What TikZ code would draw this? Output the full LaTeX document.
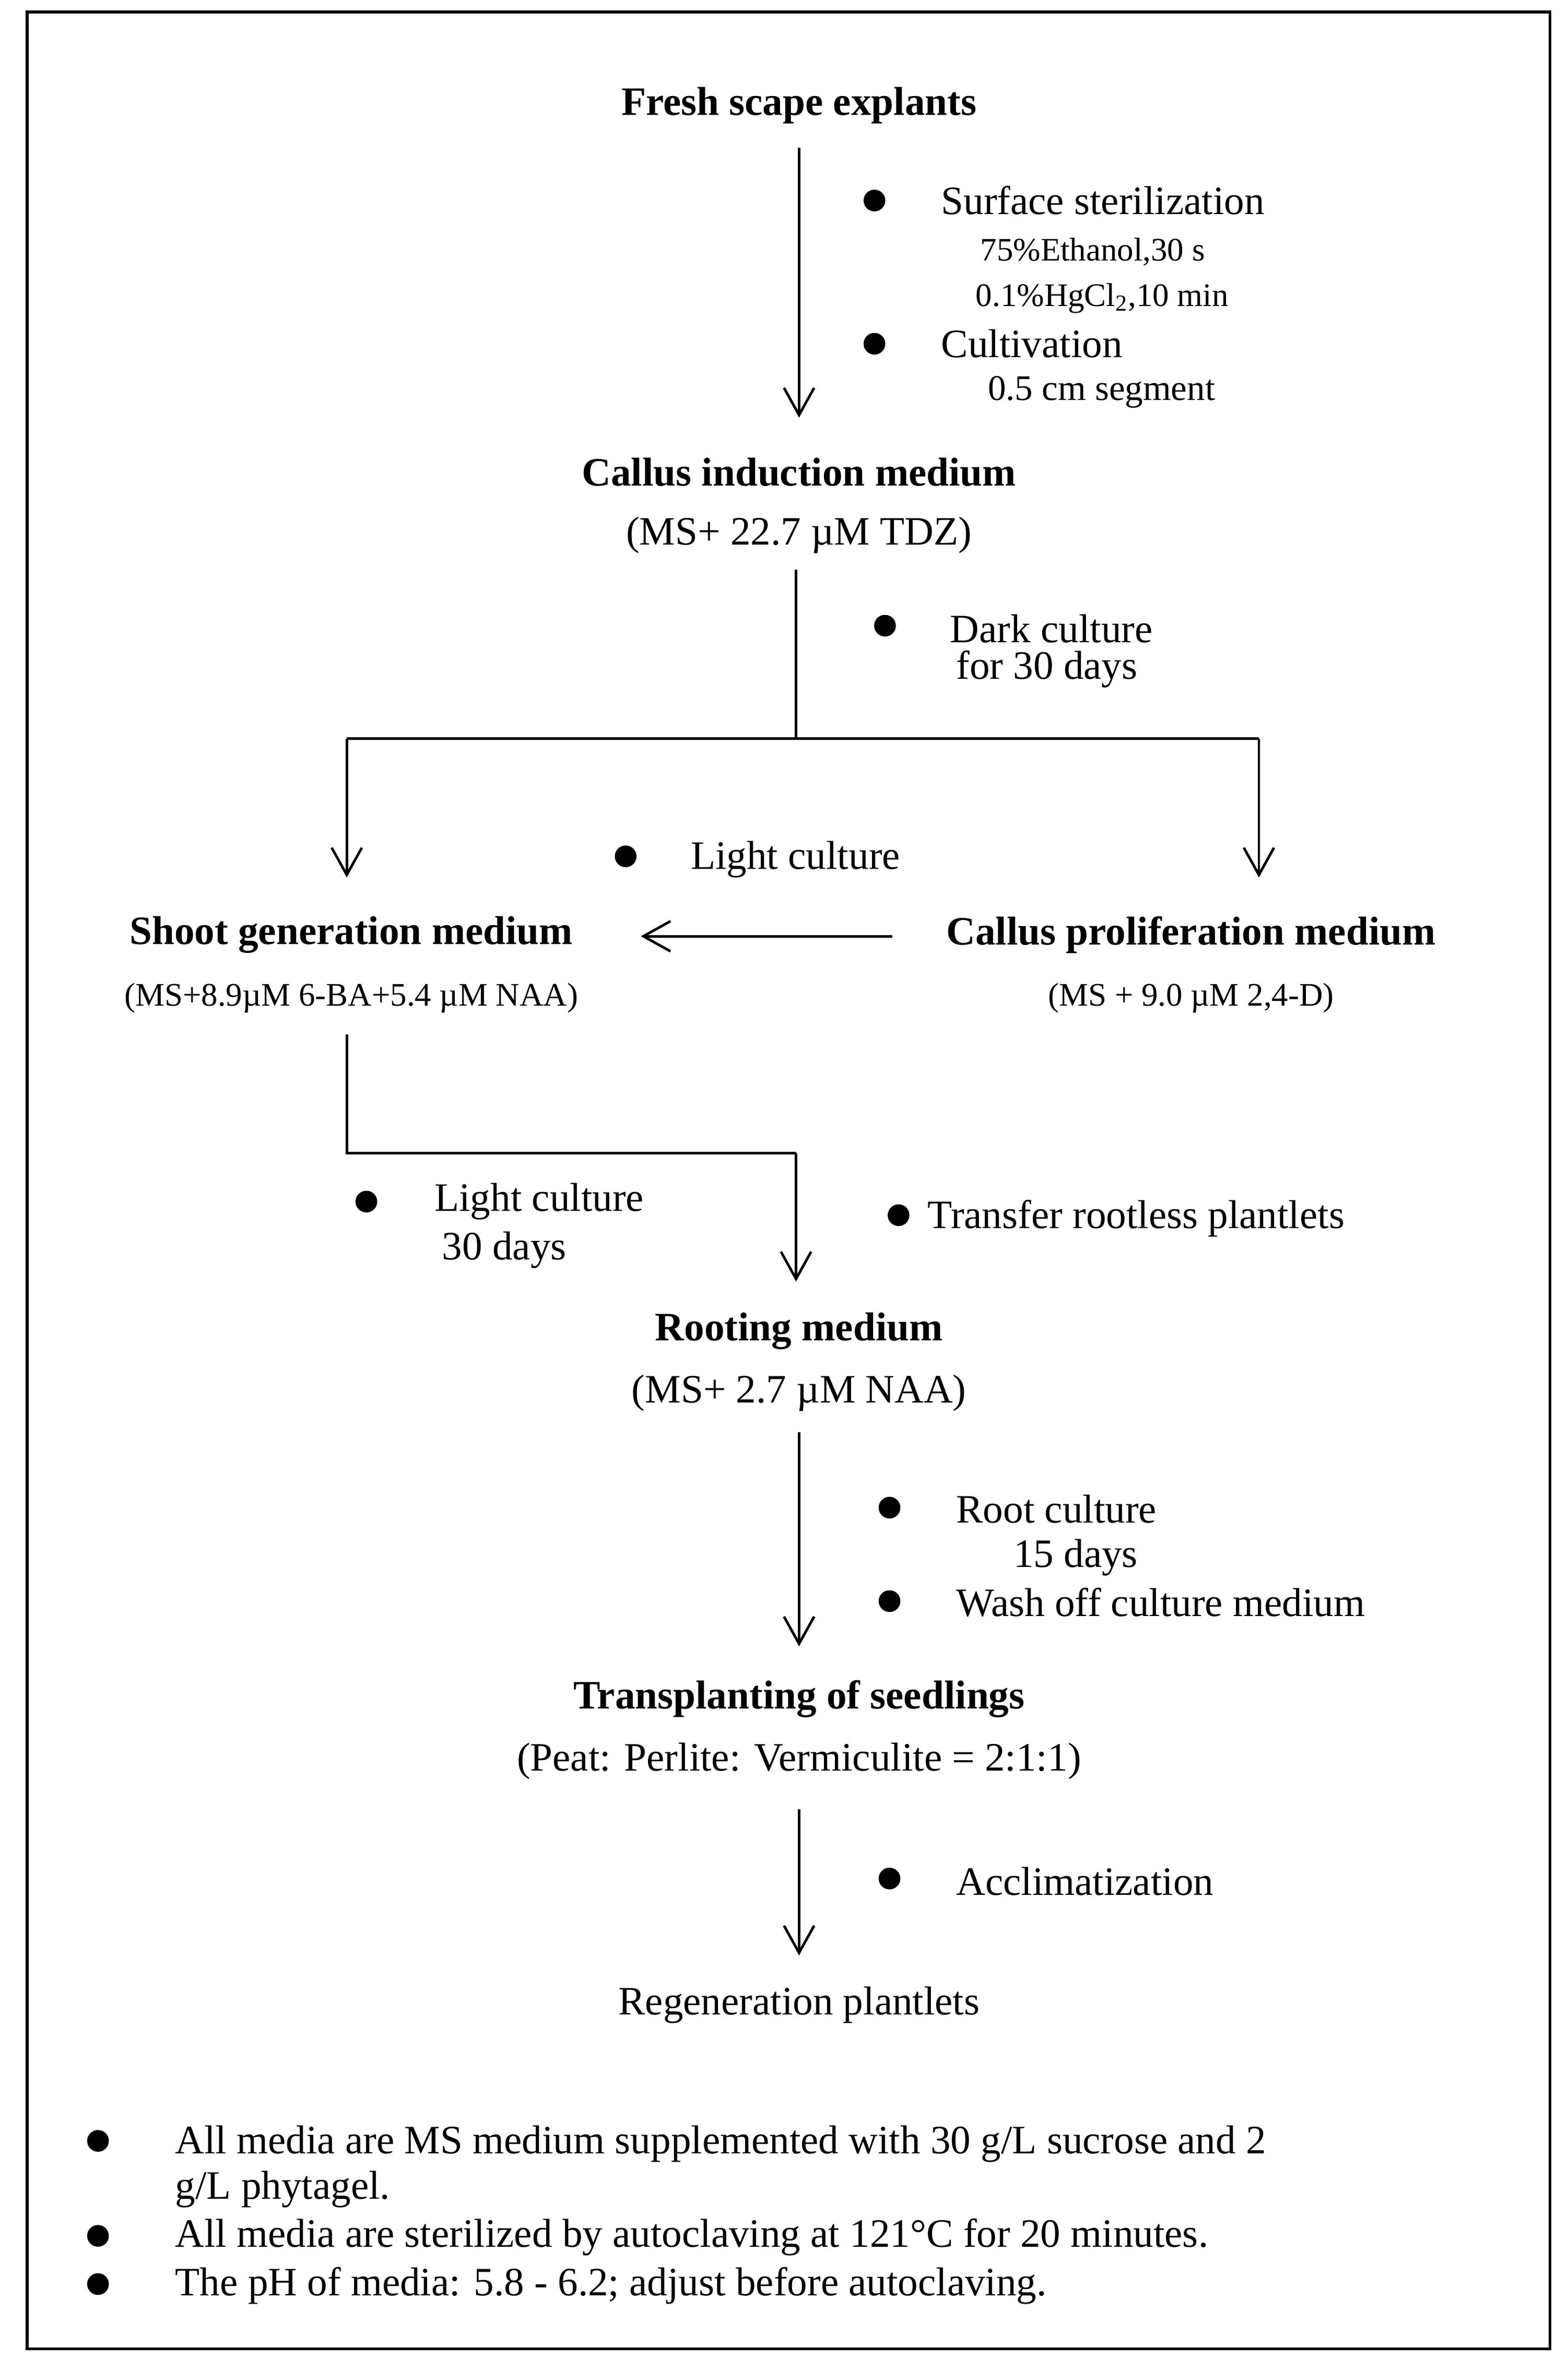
\documentclass[tikz,border=0pt]{standalone}
\usepackage{fontspec}
\setmainfont{Liberation Serif}
\usetikzlibrary{arrows.meta}
\begin{document}
\begin{tikzpicture}[x=0.025cm,y=-0.025cm,
  big/.style={font=\fontsize{19}{22}\selectfont,inner sep=0pt},
  bold/.style={font=\fontsize{19}{22}\selectfont\bfseries,inner sep=0pt},
  med/.style={font=\fontsize{17}{20}\selectfont,inner sep=0pt},
  small/.style={font=\fontsize{15.5}{18}\selectfont,inner sep=0pt},
  lt/.style={anchor=west},
  dot/.style={circle,fill=black,inner sep=0pt,minimum size=13\pgflinewidth,minimum size=0.36cm},
  arr/.style={-{Straight Barb[length=0.45cm,width=0.5cm,line width=1.2pt]},line width=1.2pt},
  ln/.style={line width=1.2pt}]
\useasboundingbox (0,0) rectangle (1040,1572);
\draw[line width=1.3pt] (18,8) rectangle (1028,1558);
% level 1
\node[bold] (fresh) at (530,70) {Fresh scape explants};
\coordinate (a1s) at (530,98); \coordinate (a1e) at (530,277);
\draw[arr] (a1s) -- (a1e);
\node[dot] (b1) at (580,133) {}; \node[big,lt] (t1) at (624,133) {Surface sterilization};
\node[small,lt] (t1a) at (650,167) {75\%Ethanol,30 s};
\node[small,lt] (t1b) at (647,198) {0.1\%HgCl\textsubscript{2},10 min};
\node[dot] (b2) at (580,228) {}; \node[big,lt] (t2) at (624,228) {Cultivation};
\node[med,lt] (t2a) at (655,260) {0.5 cm segment};
% callus induction
\node[bold] (ci) at (530,313) {Callus induction medium};
\node[big] (cim) at (530,355) {(MS+ 22.7 µM TDZ)};
\coordinate (s2) at (528,378); \coordinate (j) at (528,490);
\coordinate (jl) at (230,490); \coordinate (jr) at (835,490);
\coordinate (el) at (230,582); \coordinate (er) at (835,582);
\draw[ln] (s2) -- (j);
\draw[ln] (jl) -- (jr);
\draw[arr] (jl) -- (el);
\draw[arr] (jr) -- (er);
\node[dot] (b3) at (587,415) {}; \node[big,lt] (t3) at (630,417) {Dark culture};
\node[big,lt] (t3a) at (634,444) {for 30 days};
\node[dot] (b4) at (415,568) {}; \node[big,lt] (t4) at (458,570) {Light culture};
\node[bold] (sg) at (233,620) {Shoot generation medium};
\node[small] (sgm) at (233,662) {(MS+8.9µM 6-BA+5.4 µM NAA)};
\node[bold] (cp) at (790,620) {Callus proliferation medium};
\node[small] (cpm) at (790,662) {(MS + 9.0 µM 2,4-D)};
\coordinate (hs) at (592,621); \coordinate (he) at (425,621);
\draw[arr] (hs) -- (he);
% to rooting
\coordinate (r1) at (230,686); \coordinate (r2) at (230,765);
\coordinate (r3) at (528,765); \coordinate (r4) at (528,850);
\draw[ln] (r1) -- (r2) -- (r3);
\draw[arr] (r3) -- (r4);
\node[dot] (b5) at (243,797) {}; \node[big,lt] (t5) at (288,797) {Light culture};
\node[big,lt] (t5a) at (293,829) {30 days};
\node[dot] (b6) at (596,806) {}; \node[big,lt] (t6) at (615,808) {Transfer rootless plantlets};
\node[bold] (rm) at (530,883) {Rooting medium};
\node[big] (rmm) at (530,924) {(MS+ 2.7 µM NAA)};
\coordinate (a3s) at (530,950); \coordinate (a3e) at (530,1092);
\draw[arr] (a3s) -- (a3e);
\node[dot] (b7) at (590,1000) {}; \node[big,lt] (t7) at (634,1001) {Root culture};
\node[big,lt] (t7a) at (672,1033) {15 days};
\node[dot] (b8) at (590,1062) {}; \node[big,lt] (t8) at (634,1063) {Wash off culture medium};
\node[bold] (ts) at (530,1127) {Transplanting of seedlings};
\node[big] (tsm) at (530,1168) {(Peat: Perlite: Vermiculite = 2:1:1)};
\coordinate (a4s) at (530,1200); \coordinate (a4e) at (530,1297);
\draw[arr] (a4s) -- (a4e);
\node[dot] (b9) at (590,1246) {}; \node[big,lt] (t9) at (634,1248) {Acclimatization};
\node[big] (rp) at (530,1330) {Regeneration plantlets};
% notes
\node[dot] (n1) at (65,1420) {}; \node[big,lt] (nt1) at (116,1422) {All media are MS medium supplemented with 30 g/L sucrose and 2};
\node[big,lt] (nt1b) at (116,1452) {g/L phytagel.};
\node[dot] (n2) at (65,1483) {}; \node[big,lt] (nt2) at (116,1484) {All media are sterilized by autoclaving at 121°C for 20 minutes.};
\node[dot] (n3) at (65,1515) {}; \node[big,lt] (nt3) at (116,1516) {The pH of media: 5.8 - 6.2; adjust before autoclaving.};
\end{tikzpicture}
\end{document}
